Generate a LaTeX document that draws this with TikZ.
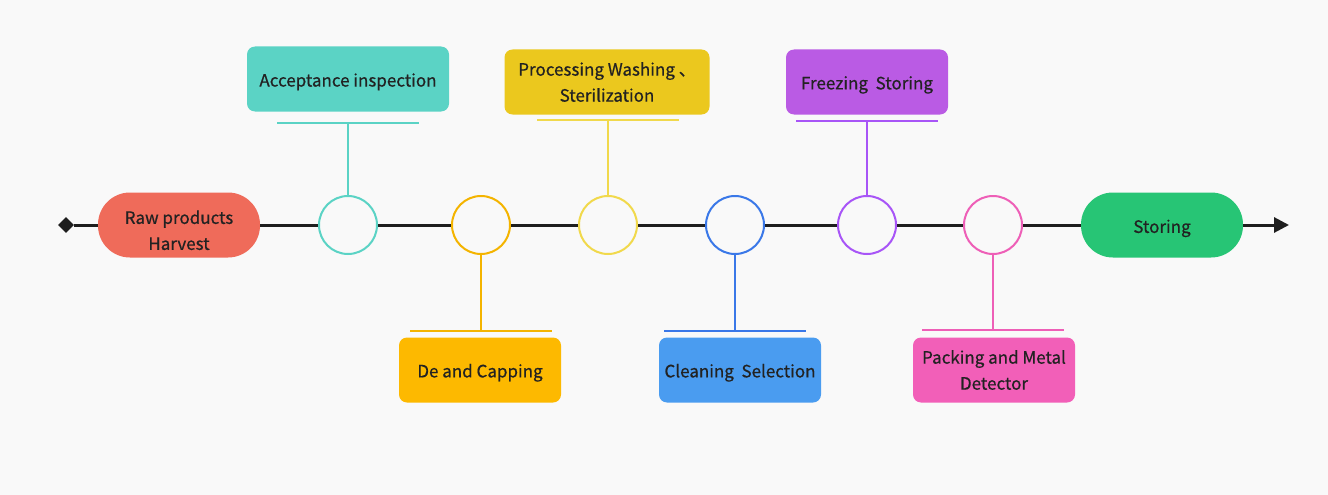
\documentclass[tikz,border=0pt]{standalone}
\usepackage{fontspec}
\setmainfont{Noto Sans CJK SC}
\newfontfamily\labelfont{Noto Sans CJK SC}[FakeBold=0.6]
\usetikzlibrary{positioning, shapes.geometric, arrows.meta}
\definecolor{bgcol}{HTML}{F9F9F9}
\definecolor{inkdark}{HTML}{1E1E1E}
\definecolor{txtdark}{HTML}{222222}
\definecolor{rawred}{HTML}{EF6B5A}
\definecolor{accteal}{HTML}{5BD3C5}
\definecolor{procyellow}{HTML}{EBC81E}
\definecolor{procring}{HTML}{F1D94C}
\definecolor{capamber}{HTML}{FDB900}
\definecolor{capring}{HTML}{F4B400}
\definecolor{cleanblue}{HTML}{4A9CF0}
\definecolor{cleanring}{HTML}{3A78E8}
\definecolor{frzpurple}{HTML}{BA5BE4}
\definecolor{frzring}{HTML}{A855F7}
\definecolor{packpink}{HTML}{F25FB8}
\definecolor{packring}{HTML}{EE5FB7}
\definecolor{storegreen}{HTML}{27C575}
\tikzset{
  pill/.style={
    rectangle, rounded corners=32pt,
    minimum width=162pt, minimum height=65pt,
    align=center, text=txtdark,
    font=\labelfont\fontsize{17}{26}\selectfont,
    execute at begin node={\rule{0pt}{20pt}}
  },
  card/.style={
    rectangle, rounded corners=8pt,
    minimum width=162pt, minimum height=65pt,
    align=center, text=txtdark,
    font=\labelfont\fontsize{17}{26}\selectfont,
    execute at begin node={\rule{0pt}{19pt}}
  },
  station/.style={
    circle, draw, line width=2pt, minimum size=58pt, fill=bgcol
  },
  stem/.style={line width=2pt},
  axis/.style={line width=3pt, draw=inkdark}
}

\begin{document}
\begin{tikzpicture}[x=1pt, y=-1pt]
  \fill[bgcol] (0,0) rectangle (1328,495);

  % ends of the timeline
  \node[diamond, fill=inkdark, inner sep=0pt, minimum size=16pt] (start) at (66,225) {};
  \coordinate (finish) at (1289,225);

  % start and end stages
  \node[pill, fill=rawred] (raw) at (179,225) {\rule{0pt}{24pt}Raw products\\Harvest};
  \node[pill, fill=storegreen] (store) at (1162,225) {Storing};

  % stations on the line
  \node[station, draw=accteal] (accept) at (348,225) {};
  \node[station, draw=capring] (decap) at (481,225) {};
  \node[station, draw=procring] (wash) at (608,225) {};
  \node[station, draw=cleanring] (clean) at (735,225) {};
  \node[station, draw=frzring] (freeze) at (867,225) {};
  \node[station, draw=packring] (pack) at (993,225) {};

  % cards
  \node[card, fill=accteal, minimum width=202pt] (acceptcard) at (348,79) {Acceptance inspection};
  \node[card, fill=procyellow, minimum width=205pt] (washcard) at (607,82) {Processing Washing {、}\\Sterilization};
  \node[card, fill=frzpurple] (freezecard) at (867,82) {Freezing\ \ Storing};
  \node[card, fill=capamber] (decapcard) at (480,370) {De and Capping};
  \node[card, fill=cleanblue] (cleancard) at (740,370) {Cleaning\ \ Selection};
  \node[card, fill=packpink] (packcard) at (994,370) {Packing and Metal\\Detector};

  % bars under / over the cards
  \coordinate (acceptbar) at (348,123);
  \coordinate (washbar) at (608,120);
  \coordinate (freezebar) at (867,121);
  \coordinate (decapbar) at (481,331);
  \coordinate (cleanbar) at (735,331);
  \coordinate (packbar) at (993,330);
  \draw[stem, accteal] ([xshift=-71pt]acceptbar) -- ([xshift=71pt]acceptbar);
  \draw[stem, procring] ([xshift=-71pt]washbar) -- ([xshift=71pt]washbar);
  \draw[stem, frzring] ([xshift=-71pt]freezebar) -- ([xshift=71pt]freezebar);
  \draw[stem, capring] ([xshift=-71pt]decapbar) -- ([xshift=71pt]decapbar);
  \draw[stem, cleanring] ([xshift=-71pt]cleanbar) -- ([xshift=71pt]cleanbar);
  \draw[stem, packring] ([xshift=-71pt]packbar) -- ([xshift=71pt]packbar);

  % stems
  \draw[stem, accteal] (acceptbar) -- (accept);
  \draw[stem, procring] (washbar) -- (wash);
  \draw[stem, frzring] (freezebar) -- (freeze);
  \draw[stem, capring] (decap) -- (decapbar);
  \draw[stem, cleanring] (clean) -- (cleanbar);
  \draw[stem, packring] (pack) -- (packbar);

  % timeline
  \draw[axis] (start) -- (raw) -- (accept) -- (decap) -- (wash) -- (clean) -- (freeze) -- (pack) -- (store);
  \draw[axis, -{Triangle[length=15pt, width=15pt]}] (store) -- (finish);
\end{tikzpicture}
\end{document}
